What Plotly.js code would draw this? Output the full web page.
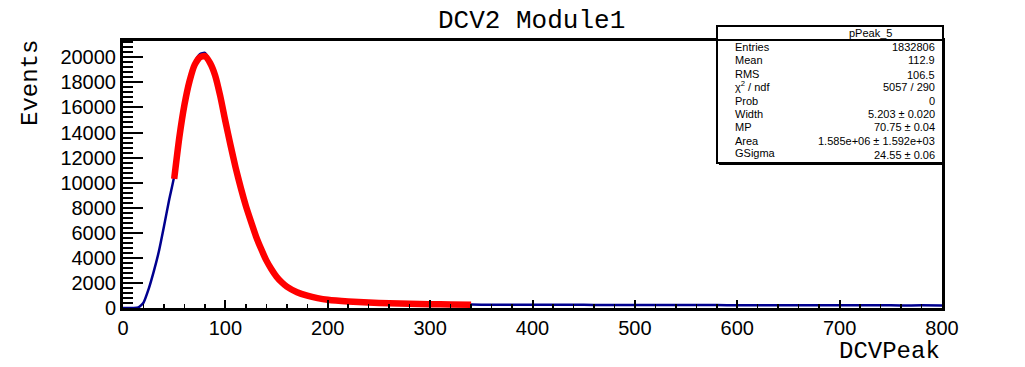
<!DOCTYPE html>
<html>
<head>
<meta charset="utf-8">
<script src="https://cdn.plot.ly/plotly-3.0.1.min.js"></script>
<style>html,body{margin:0;padding:0;background:#fff;}#chart{width:1025px;height:367px;}</style>
</head>
<body>
<div id="chart"></div>
<script>
// ---- data ----
const histX = [0,5,10,15,20,25,30,35,40,45,50,55,60,65,70,75,80,85,90,95,100,105,110,115,120,125,130,135,140,145,150,155,160,170,180,190,200,220,240,260,280,300,320,340,360,380,400,420,440,460,480,500,520,540,560,580,600,620,640,660,680,700,720,740,760,780,800];
const histY = [0,0,0,40,420,1500,2900,4500,6500,8600,10500,13800,16400,18300,19600,20250,20350,19700,18700,17000,15000,13100,11300,9700,8200,6950,5750,4750,3850,3150,2550,2080,1720,1270,990,800,670,530,440,380,340,310,290,270,265,258,262,250,255,245,248,240,236,240,230,232,226,228,220,224,216,220,212,215,208,210,205];
const fitX = [50,55,60,65,70,75,80,85,90,95,100,105,110,115,120,125,130,135,140,145,150,155,160,170,180,190,200,220,240,260,280,300,320,340];
const fitY = [10300,13600,16200,18100,19400,20000,20100,19550,18550,16900,14900,13000,11200,9600,8150,6900,5700,4700,3800,3100,2500,2050,1700,1250,980,790,660,520,430,375,335,305,280,262];

const chartTitle = "DCV2 Module1";
const xTitle = "DCVPeak";
const yTitle = "Events";
const statsName = "pPeak_5";
const statLabels = ["Entries","Mean","RMS","χ<sup>2</sup> / ndf","Prob","Width","MP","Area","GSigma"];
const statValues = ["1832806","112.9","106.5","5057 / 290","0","5.203 ± 0.020","70.75 ± 0.04","1.585e+06 ± 1.592e+03","24.55 ± 0.06"];

// ---- layout geometry (pixels) ----
const L = 123, R = 942, T = 41, B = 308, W = 1025, H = 367;
const px = x => (x - L) / (R - L);
const py = y => (B - y) / (B - T);

const traces = [
  {x: histX, y: histY, type: 'scatter', mode: 'lines',
   line: {color: '#00008f', width: 2.5, shape: 'spline', smoothing: 0.5}, hoverinfo: 'skip'},
  {x: fitX, y: fitY, type: 'scatter', mode: 'lines',
   line: {color: '#ff0000', width: 6.5, shape: 'spline', smoothing: 0.5}, hoverinfo: 'skip'}
];

const tickFont = {family: 'Liberation Sans, Arial, sans-serif', size: 20, color: '#000'};
const monoFont = (s) => ({family: 'Liberation Mono, Courier New, monospace', size: s, color: '#000'});
const statFont = {family: 'Liberation Sans, Arial, sans-serif', size: 11, color: '#000'};

const rowY = [47.5, 60, 73.5, 85.5, 101, 114, 127, 140.5, 152.5];
const valY = [47.5, 60, 74.5, 87, 101, 114, 127, 140.5, 154.5];

const annotations = [
  {text: chartTitle, xref: 'paper', yref: 'paper', x: px(531), y: py(21), xanchor: 'center', yanchor: 'middle', showarrow: false, font: monoFont(26)},
  {text: yTitle, xref: 'paper', yref: 'paper', x: px(30), y: py(83), xanchor: 'center', yanchor: 'middle', textangle: -90, showarrow: false, font: monoFont(24)},
  {text: xTitle, xref: 'paper', yref: 'paper', x: px(889), y: py(351), xanchor: 'center', yanchor: 'middle', showarrow: false, font: monoFont(24)},
  {text: statsName, xref: 'paper', yref: 'paper', x: px(870), y: py(33), xanchor: 'center', yanchor: 'middle', showarrow: false, font: statFont}
];
statLabels.forEach((t, i) => annotations.push({text: t, xref: 'paper', yref: 'paper', x: px(733), y: py(rowY[i]), xanchor: 'left', yanchor: 'middle', showarrow: false, font: statFont}));
statValues.forEach((t, i) => annotations.push({text: t, xref: 'paper', yref: 'paper', x: px(937), y: py(valY[i]), xanchor: 'right', yanchor: 'middle', showarrow: false, font: statFont}));

const shapes = [
  {type: 'rect', xref: 'paper', yref: 'paper', x0: px(717), x1: px(943), y0: py(163), y1: py(26), line: {color: '#000', width: 2}, fillcolor: '#fff', layer: 'above'},
  {type: 'line', xref: 'paper', yref: 'paper', x0: px(717), x1: px(943), y0: py(40), y1: py(40), line: {color: '#000', width: 2}, layer: 'above'},
  {type: 'line', xref: 'paper', yref: 'paper', x0: px(719), x1: px(943), y0: py(163.5), y1: py(163.5), line: {color: '#000', width: 3}, layer: 'above'}
];

const layout = {
  width: W, height: H,
  margin: {l: L, r: W - R, t: T, b: H - B, pad: 0},
  paper_bgcolor: '#fff', plot_bgcolor: '#fff',
  showlegend: false,
  xaxis: {range: [0, 800], tick0: 0, dtick: 100, ticks: 'inside', ticklen: 8, tickwidth: 2, tickcolor: '#000',
          minor: {dtick: 20, ticks: 'inside', ticklen: 4, tickwidth: 1.5, tickcolor: '#000', showgrid: false},
          showline: true, mirror: true, linewidth: 3, linecolor: '#000', showgrid: false, zeroline: false,
          tickformat: 'd', tickfont: tickFont},
  yaxis: {range: [0, 21300], tick0: 0, dtick: 2000, ticks: 'inside', ticklen: 20, tickwidth: 2, tickcolor: '#000',
          minor: {tick0: 0, dtick: 400, ticks: 'inside', ticklen: 10, tickwidth: 2, tickcolor: '#000', showgrid: false},
          showline: true, mirror: true, linewidth: 3, linecolor: '#000', showgrid: false, zeroline: false,
          tickformat: 'd', separatethousands: false, exponentformat: 'none', tickfont: tickFont},
  annotations: annotations,
  shapes: shapes
};

Plotly.newPlot('chart', traces, layout, {staticPlot: true, displayModeBar: false});
</script>
</body>
</html>
